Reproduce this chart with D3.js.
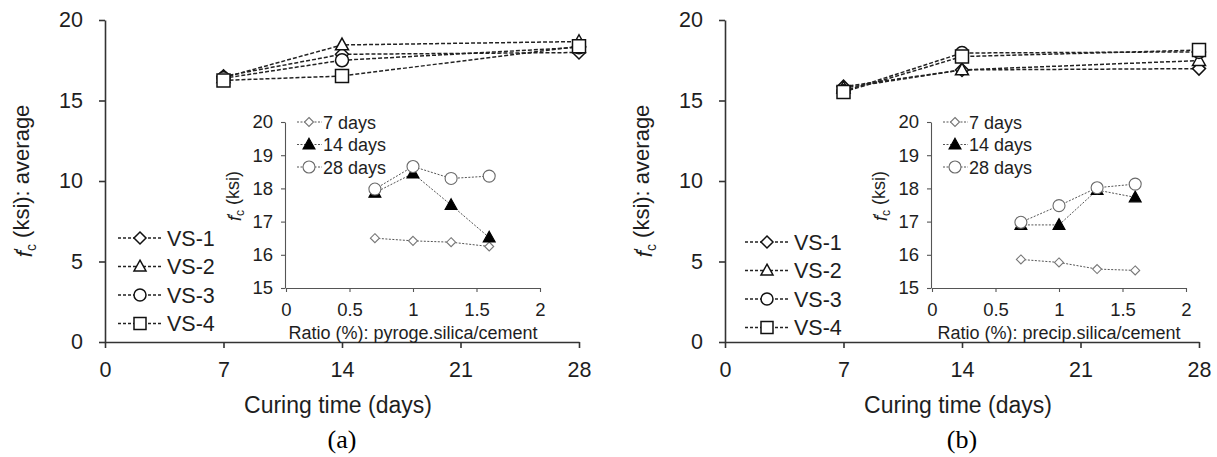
<!DOCTYPE html>
<html>
<head>
<meta charset="utf-8">
<script src="https://cdn.jsdelivr.net/npm/d3@7"></script>
<style>
  html, body { margin: 0; padding: 0; background: #fff; }
  svg { display: block; font-family: "Liberation Sans", Arial, sans-serif; }
</style>
</head>
<body>
<svg id="chart" width="1217" height="457"></svg>
<script>
// ratios of silica to cement (%) used for the four mixes
const ratios = [0.7, 1.0, 1.3, 1.6];
const curingDays = [7, 14, 28];
const mixLabels = ['VS-1', 'VS-2', 'VS-3', 'VS-4'];
const ageLabels = ['7 days', '14 days', '28 days'];

// (a) pyrogenic silica, f'c (ksi) per mix
const pyroDay7 = [16.5, 16.42, 16.38, 16.25];
const pyroDay14 = [17.87, 18.45, 17.5, 16.52];
const pyroDay28 = [17.98, 18.66, 18.3, 18.37];

// (b) precipitated silica, f'c (ksi) per mix
const precDay7 = [15.86, 15.77, 15.57, 15.53];
const precDay14 = [16.9, 16.9, 17.95, 17.73];
const precDay28 = [16.98, 17.48, 18.02, 18.13];

const mainTicksX = [0, 7, 14, 21, 28];
const mainTicksY = [0, 5, 10, 15, 20];
const insetTicksX = [0, 0.5, 1, 1.5, 2];
const insetTicksY = [15, 16, 17, 18, 19, 20];

const panels = [
    {
        tag: '(a)', byAge: [pyroDay7, pyroDay14, pyroDay28],
        insetTitle: 'Ratio (%): pyroge.silica/cement',
        mainLeft: 105, insetLeft: 286, legendX: 118, legendY: 238
    },
    {
        tag: '(b)', byAge: [precDay7, precDay14, precDay28],
        insetTitle: 'Ratio (%): precip.silica/cement',
        mainLeft: 725, insetLeft: 932, legendX: 745, legendY: 242
    }
];

const ink = '#1e1e1e';
const svg = d3.select('#chart');

// marker outlines, r is half width
function markerPath(type, r) {
    const p = d3.path();
    if (type === 'diamond') {
        p.moveTo(0, -r); p.lineTo(r, 0); p.lineTo(0, r); p.lineTo(-r, 0); p.closePath();
    } else if (type === 'triangle') {
        p.moveTo(0, -r * 1.05); p.lineTo(r, r * 0.75); p.lineTo(-r, r * 0.75); p.closePath();
    } else if (type === 'square') {
        p.rect(-r, -r, 2 * r, 2 * r);
    } else {
        p.arc(0, 0, r, 0, 2 * Math.PI);
    }
    return p.toString();
}

const mixMarkers = ['diamond', 'triangle', 'circle', 'square'];
const ageMarkers = [
    { type: 'diamond', r: 4.5, fill: '#fff', stroke: '#777' },
    { type: 'triangle', r: 6, fill: '#000', stroke: '#000' },
    { type: 'circle', r: 6, fill: '#fff', stroke: '#6a6a6a' }
];

const numberLabel = d => String(d);

function styleAxis(g, color, width, size) {
    g.attr('font-family', null);
    g.select('.domain').attr('stroke', color).attr('stroke-width', width);
    g.selectAll('.tick line').attr('stroke', color).attr('stroke-width', width);
    g.selectAll('.tick text').attr('fill', ink).attr('font-size', size);
}

panels.forEach(panel => {
    const x = d3.scaleLinear().domain([0, 28]).range([panel.mainLeft, panel.mainLeft + 474]);
    const y = d3.scaleLinear().domain([0, 20]).range([342, 20]);

    const gx = svg.append('g')
        .attr('transform', 'translate(0,' + y(0) + ')')
        .call(d3.axisBottom(x).tickValues(mainTicksX).tickFormat(numberLabel)
            .tickSize(6).tickSizeOuter(0).tickPadding(14));
    styleAxis(gx, '#333', 1.6, 21.5);

    const gy = svg.append('g')
        .attr('transform', 'translate(' + x(0) + ',0)')
        .call(d3.axisLeft(y).tickValues(mainTicksY).tickFormat(numberLabel)
            .tickSize(6).tickSizeOuter(0).tickPadding(16));
    styleAxis(gy, '#333', 1.6, 21.5);

    // one series per mix, read across the three curing ages
    const series = mixLabels.map((name, i) => ({
        name: name,
        marker: mixMarkers[i],
        values: curingDays.map((day, k) => ({ day: day, fc: panel.byAge[k][i] }))
    }));

    const line = d3.line().x(d => x(d.day)).y(d => y(d.fc));

    svg.append('g').selectAll('path')
        .data(series)
        .enter()
        .append('path')
        .attr('d', d => line(d.values))
        .attr('fill', 'none')
        .attr('stroke', '#222')
        .attr('stroke-width', 1.5)
        .attr('stroke-dasharray', '4,2');

    series.forEach(s => {
        svg.append('g').selectAll('path')
            .data(s.values)
            .enter()
            .append('path')
            .attr('transform', d => 'translate(' + x(d.day) + ',' + y(d.fc) + ')')
            .attr('d', markerPath(s.marker, 6.5))
            .attr('fill', '#fff')
            .attr('stroke', '#111')
            .attr('stroke-width', 1.5);
    });

    // legend of the mixes
    const legend = svg.append('g');
    series.forEach((s, i) => {
        const ly = panel.legendY + i * 28.5;
        legend.append('line')
            .attr('x1', panel.legendX).attr('x2', panel.legendX + 45)
            .attr('y1', ly).attr('y2', ly)
            .attr('stroke', '#222').attr('stroke-width', 1.5)
            .attr('stroke-dasharray', '3,2');
        legend.append('path')
            .attr('transform', 'translate(' + (panel.legendX + 22) + ',' + ly + ')')
            .attr('d', markerPath(s.marker, 6))
            .attr('fill', '#fff').attr('stroke', '#111').attr('stroke-width', 1.5);
        legend.append('text')
            .attr('x', panel.legendX + 49).attr('y', ly + 7.5)
            .attr('font-size', 21.5).attr('fill', ink)
            .text(s.name);
    });

    // main axis titles
    const yTitle = svg.append('text')
        .attr('transform', 'translate(' + (panel.mainLeft - 73) + ',181) rotate(-90)')
        .attr('text-anchor', 'middle')
        .attr('font-size', 22)
        .attr('fill', ink);
    yTitle.append('tspan').attr('font-style', 'italic').text('f');
    yTitle.append('tspan').attr('dy', '-0.35em').attr('font-size', 16).text('′');
    yTitle.append('tspan').attr('dx', '-0.2em').attr('dy', '0.65em').attr('font-size', 14).text('c');
    yTitle.append('tspan').attr('dy', '-0.3em').text(' (ksi): average');

    svg.append('text')
        .attr('x', (x(0) + x(28)) / 2 - 4).attr('y', 413)
        .attr('text-anchor', 'middle')
        .attr('font-size', 23).attr('fill', ink)
        .text('Curing time (days)');

    svg.append('text')
        .attr('x', x(14)).attr('y', 448)
        .attr('text-anchor', 'middle')
        .attr('font-family', '"Liberation Serif", "Times New Roman", serif')
        .attr('font-size', 26).attr('fill', '#000')
        .text(panel.tag);

    // inset: strength against silica ratio
    const ix = d3.scaleLinear().domain([0, 2]).range([panel.insetLeft, panel.insetLeft + 254]);
    const iy = d3.scaleLinear().domain([15, 20]).range([288, 122]);

    const igx = svg.append('g')
        .attr('transform', 'translate(0,' + iy(15) + ')')
        .call(d3.axisBottom(ix).tickValues(insetTicksX).tickFormat(numberLabel)
            .tickSize(4).tickSizeOuter(0).tickPadding(11));
    styleAxis(igx, '#555', 1.1, 18.5);

    const igy = svg.append('g')
        .attr('transform', 'translate(' + (ix(0) - 1) + ',0)')
        .call(d3.axisLeft(iy).tickValues(insetTicksY).tickFormat(numberLabel)
            .tickSize(4).tickSizeOuter(0).tickPadding(8));
    styleAxis(igy, '#555', 1.1, 18.5);

    const ages = ageLabels.map((name, k) => ({
        name: name,
        style: ageMarkers[k],
        values: ratios.map((r, i) => ({ ratio: r, fc: panel.byAge[k][i] }))
    }));

    const iline = d3.line().x(d => ix(d.ratio)).y(d => iy(d.fc));

    svg.append('g').selectAll('path')
        .data(ages)
        .enter()
        .append('path')
        .attr('d', d => iline(d.values))
        .attr('fill', 'none')
        .attr('stroke', '#555')
        .attr('stroke-width', 1)
        .attr('stroke-dasharray', '2,1.5');

    ages.forEach(a => {
        svg.append('g').selectAll('path')
            .data(a.values)
            .enter()
            .append('path')
            .attr('transform', d => 'translate(' + ix(d.ratio) + ',' + iy(d.fc) + ')')
            .attr('d', markerPath(a.style.type, a.style.r))
            .attr('fill', a.style.fill)
            .attr('stroke', a.style.stroke)
            .attr('stroke-width', 1.1);
    });

    const ilegend = svg.append('g');
    ages.forEach((a, k) => {
        const ly = 122 + k * 22.5;
        const lx = ix(0) + 11;
        ilegend.append('line')
            .attr('x1', lx).attr('x2', lx + 25)
            .attr('y1', ly).attr('y2', ly)
            .attr('stroke', '#555').attr('stroke-width', 1)
            .attr('stroke-dasharray', '2,1.5');
        ilegend.append('path')
            .attr('transform', 'translate(' + (lx + 12) + ',' + ly + ')')
            .attr('d', markerPath(a.style.type, a.style.r))
            .attr('fill', a.style.fill).attr('stroke', a.style.stroke).attr('stroke-width', 1.1);
        ilegend.append('text')
            .attr('x', lx + 26).attr('y', ly + 6.5)
            .attr('font-size', 18).attr('fill', ink)
            .text(a.name);
    });

    const iyTitle = svg.append('text')
        .attr('transform', 'translate(' + (ix(0) - 45) + ',196) rotate(-90)')
        .attr('text-anchor', 'middle')
        .attr('font-size', 18)
        .attr('fill', ink);
    iyTitle.append('tspan').attr('font-style', 'italic').text('f');
    iyTitle.append('tspan').attr('dy', '-0.35em').attr('font-size', 13).text('′');
    iyTitle.append('tspan').attr('dx', '-0.2em').attr('dy', '0.65em').attr('font-size', 12).text('c');
    iyTitle.append('tspan').attr('dy', '-0.3em').text(' (ksi)');

    svg.append('text')
        .attr('x', (ix(0) + ix(2)) / 2).attr('y', 339)
        .attr('text-anchor', 'middle')
        .attr('font-size', 18).attr('fill', ink)
        .text(panel.insetTitle);
});
</script>
</body>
</html>
